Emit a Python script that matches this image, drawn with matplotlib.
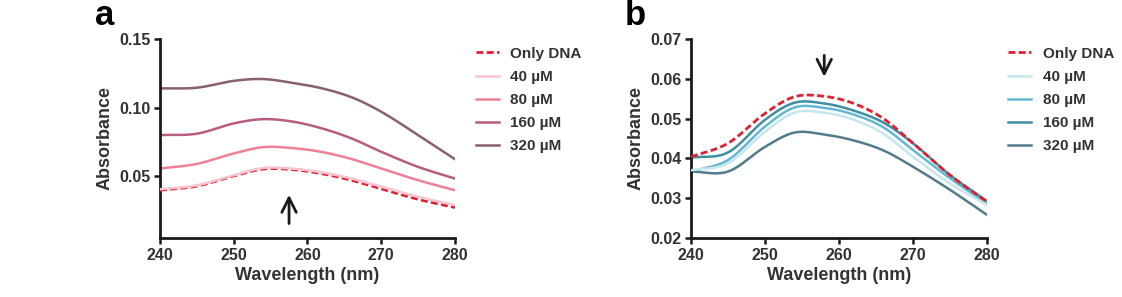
import matplotlib
matplotlib.use("Agg")
import matplotlib.pyplot as plt
import numpy as np

plt.rcParams['font.family'] = ['Liberation Sans', 'DejaVu Sans']
plt.rcParams['font.weight'] = 'bold'

# ---- data ----
wavelength = [240, 245, 250, 254, 258, 262, 266, 270, 275, 280]

a_only_dna = [0.0398, 0.0428, 0.0502, 0.0552, 0.0548, 0.0518, 0.0470, 0.0408, 0.0332, 0.0272]
a_40 = [0.0405, 0.0434, 0.0507, 0.0560, 0.0555, 0.0528, 0.0483, 0.0424, 0.0350, 0.0290]
a_80 = [0.0556, 0.0590, 0.0666, 0.0712, 0.0705, 0.0676, 0.0625, 0.0556, 0.0471, 0.0398]
a_160 = [0.0800, 0.0810, 0.0885, 0.0916, 0.0898, 0.0848, 0.0775, 0.0678, 0.0568, 0.0483]
a_320 = [0.1140, 0.1145, 0.1195, 0.1208, 0.1180, 0.1140, 0.1075, 0.0970, 0.0800, 0.0624]

b_only_dna = [0.0404, 0.0438, 0.0513, 0.0555, 0.0556, 0.0538, 0.0500, 0.0438, 0.0358, 0.0291]
b_40 = [0.0370, 0.0388, 0.0467, 0.0515, 0.0515, 0.0497, 0.0462, 0.0404, 0.0337, 0.0283]
b_80 = [0.0367, 0.0396, 0.0480, 0.0528, 0.0527, 0.0510, 0.0478, 0.0421, 0.0350, 0.0287]
b_160 = [0.0402, 0.0415, 0.0497, 0.0540, 0.0538, 0.0520, 0.0490, 0.0438, 0.0358, 0.0293]
b_320 = [0.0367, 0.0367, 0.0429, 0.0465, 0.0460, 0.0445, 0.0420, 0.0379, 0.0321, 0.0258]

labels = ['Only DNA', '40 µM', '80 µM', '160 µM', '320 µM']
x_ticks = [240, 250, 260, 270, 280]
a_yticks = [0.05, 0.10, 0.15]
b_yticks = [0.02, 0.03, 0.04, 0.05, 0.06, 0.07]

a_colors = ['#e02030', '#f9c4cf', '#ee8098', '#b85c80', '#8a5f70']
b_colors = ['#e02030', '#c5e6ef', '#62b8d0', '#3e8fa3', '#527c8a']

fig = plt.figure(figsize=(11.22, 2.97), dpi=100)
axa = fig.add_axes([0.1426, 0.1987, 0.2629, 0.67])
axb = fig.add_axes([0.6159, 0.1987, 0.2638, 0.67])


def smooth(x, y):
    xs = np.linspace(x[0], x[-1], 200)
    x = np.asarray(x, float); y = np.asarray(y, float)
    out = []
    for xi in xs:
        i = np.searchsorted(x, xi) - 1
        i = min(max(i, 0), len(x) - 2)
        x0, x1 = x[i], x[i + 1]
        y0, y1 = y[i], y[i + 1]
        m0 = (y[i + 1] - y[i - 1]) / (x[i + 1] - x[i - 1]) if i > 0 else (y1 - y0) / (x1 - x0)
        m1 = (y[i + 2] - y[i]) / (x[i + 2] - x[i]) if i + 2 < len(x) else (y1 - y0) / (x1 - x0)
        h = x1 - x0
        t = (xi - x0) / h
        h00 = 2 * t**3 - 3 * t**2 + 1
        h10 = t**3 - 2 * t**2 + t
        h01 = -2 * t**3 + 3 * t**2
        h11 = t**3 - t**2
        out.append(h00 * y0 + h10 * h * m0 + h01 * y1 + h11 * h * m1)
    return xs, np.array(out)


def draw(ax, series, colors, ylim, yticks, fmt):
    for i, (ys, c, lab) in enumerate(zip(series, colors, labels)):
        xs, yy = smooth(wavelength, ys)
        if i == 0:
            ax.plot(xs, yy, color=c, lw=2.0, ls=(0, (2.5, 1.2)), label=lab, zorder=3)
        else:
            ax.plot(xs, yy, color=c, lw=1.8, label=lab, zorder=4 if i == 1 else 2)
    ax.set_xlim(240, 280)
    ax.set_ylim(*ylim)
    ax.set_xticks(x_ticks)
    ax.set_yticks(yticks)
    ax.set_yticklabels([fmt.format(v) for v in yticks])
    for s in ['top', 'right']:
        ax.spines[s].set_visible(False)
    for s in ['left', 'bottom']:
        ax.spines[s].set_linewidth(2.0)
        ax.spines[s].set_color('#1a1a1a')
    ax.tick_params(direction='out', length=4, width=1.8, labelsize=11.5, colors='#1a1a1a', pad=3)
    for t in ax.get_xticklabels() + ax.get_yticklabels():
        t.set_fontweight('bold')
        t.set_color('#333333')
    ax.set_xlabel('Wavelength (nm)', fontsize=13, fontweight='bold', color='#333333', labelpad=3)
    ax.set_ylabel('Absorbance', fontsize=13, fontweight='bold', color='#333333', labelpad=4)
    leg = ax.legend(loc='upper left', bbox_to_anchor=(1.025, 1.03), frameon=False,
                    handlelength=1.5, handletextpad=0.75, labelspacing=0.6,
                    prop={'weight': 'bold', 'size': 11})
    for t in leg.get_texts():
        t.set_color('#333333')


draw(axa, [a_only_dna, a_40, a_80, a_160, a_320], a_colors, (0.005, 0.15), a_yticks, '{:.2f}')
draw(axb, [b_only_dna, b_40, b_80, b_160, b_320], b_colors, (0.02, 0.07), b_yticks, '{:.2f}')

axa.annotate('', xy=(257.5, 0.0385), xytext=(257.5, 0.0135),
             arrowprops=dict(arrowstyle='->', lw=2.0, color='#1a1a1a', mutation_scale=26))
axb.annotate('', xy=(258.0, 0.0598), xytext=(258.0, 0.0666),
             arrowprops=dict(arrowstyle='->', lw=2.0, color='#1a1a1a', mutation_scale=26))

fig.text(95 / 1122, 1 - 25 / 297, 'a', fontsize=25, fontweight='bold', va='baseline', ha='left')
fig.text(625 / 1122, 1 - 25 / 297, 'b', fontsize=25, fontweight='bold', va='baseline', ha='left')

fig.savefig('out.png', dpi=100)
